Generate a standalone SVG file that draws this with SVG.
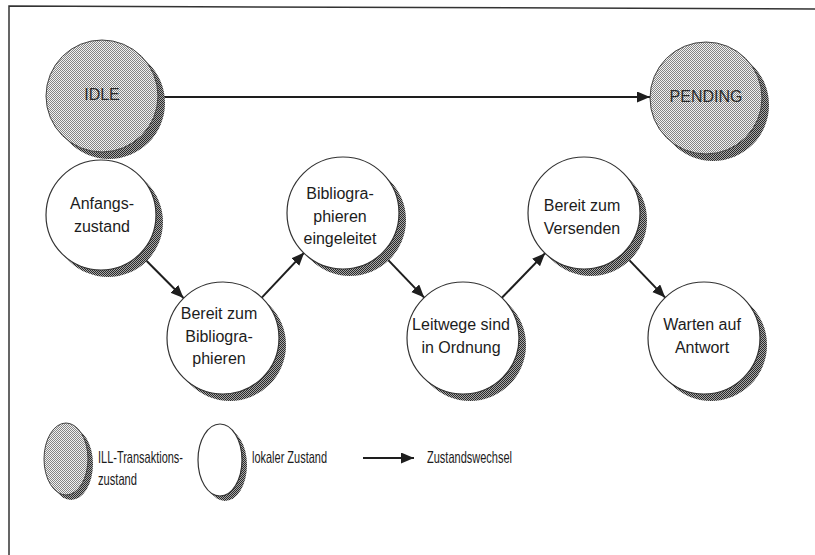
<svg xmlns="http://www.w3.org/2000/svg" width="815" height="555" viewBox="0 0 815 555">
<defs>
<pattern id="ditherLight" width="2" height="2" patternUnits="userSpaceOnUse">
<rect width="2" height="2" fill="#f2f2f2"/>
<rect width="1" height="1" fill="#858585"/>
<rect x="1" y="1" width="1" height="1" fill="#858585"/>
</pattern>
<pattern id="ditherDark" width="2" height="2" patternUnits="userSpaceOnUse">
<rect width="2" height="2" fill="#a8a8a8"/>
<rect width="1" height="1" fill="#2a2a2a"/>
<rect x="1" y="1" width="1" height="1" fill="#2a2a2a"/>
</pattern>
<marker id="arrow" markerUnits="userSpaceOnUse" markerWidth="14" markerHeight="12" refX="13" refY="5.5" orient="auto">
<path d="M0,0 L13,5.5 L0,11 z" fill="#1e1e1e"/>
</marker>
<style>
.shadow{fill:url(#ditherDark);stroke:none}
.gray{fill:url(#ditherLight);stroke:#444;stroke-width:1}
.white{fill:#fff;stroke:#333;stroke-width:1.2}
.lbl{font-family:"Liberation Sans",Arial,sans-serif;font-size:16px;fill:#1c1c1c;text-anchor:middle}
.glbl{font-family:"Liberation Sans",Arial,sans-serif;font-size:16px;fill:#2a2a2a;text-anchor:middle}
.leg{font-family:"Liberation Sans",Arial,sans-serif;font-size:16.5px;fill:#1c1c1c}
.conn{stroke:#1e1e1e;stroke-width:2;fill:none;marker-end:url(#arrow)}
</style>
</defs>
<rect width="815" height="555" fill="#fff"/>
<path d="M9,555 L9,6 L815,9" fill="none" stroke="#333" stroke-width="1.5"/>

<g id="connectors">
<line class="conn" x1="159" y1="97" x2="650" y2="97"/>
<line class="conn" x1="140.5" y1="254.8" x2="183.5" y2="298"/>
<line class="conn" x1="261.8" y1="297.6" x2="304.2" y2="252.6"/>
<line class="conn" x1="381.8" y1="253.4" x2="424.2" y2="297.6"/>
<line class="conn" x1="501.9" y1="297.8" x2="545.1" y2="253.2"/>
<line class="conn" x1="622.8" y1="253.4" x2="665.2" y2="297.6"/>
</g>

<g id="idle">
<circle class="shadow" cx="109" cy="103" r="56"/>
<circle class="gray" cx="102" cy="96" r="56"/>
<text class="glbl" x="102" y="100">IDLE</text>
</g>
<g id="pending">
<circle class="shadow" cx="713" cy="105" r="56"/>
<circle class="gray" cx="706" cy="98" r="56"/>
<text class="glbl" x="706" y="102">PENDING</text>
</g>

<g id="anfangszustand">
<circle class="shadow" cx="108" cy="222" r="55"/>
<circle class="white" cx="101" cy="215" r="55"/>
<text class="lbl" x="102" y="209">Anfangs-</text>
<text class="lbl" x="102" y="232">zustand</text>
</g>
<g id="bereit-bibliographieren">
<circle class="shadow" cx="230" cy="345" r="56"/>
<circle class="white" cx="223" cy="338" r="56"/>
<text class="lbl" x="219" y="319">Bereit zum</text>
<text class="lbl" x="219" y="342">Bibliogra-</text>
<text class="lbl" x="219" y="364">phieren</text>
</g>
<g id="bibliographieren-eingeleitet">
<circle class="shadow" cx="350" cy="220" r="56"/>
<circle class="white" cx="343" cy="213" r="56"/>
<text class="lbl" x="340" y="199">Bibliogra-</text>
<text class="lbl" x="340" y="222">phieren</text>
<text class="lbl" x="340" y="244">eingeleitet</text>
</g>
<g id="leitwege">
<circle class="shadow" cx="470" cy="345" r="56"/>
<circle class="white" cx="463" cy="338" r="56"/>
<text class="lbl" x="461" y="330">Leitwege sind</text>
<text class="lbl" x="461" y="353">in Ordnung</text>
</g>
<g id="bereit-versenden">
<circle class="shadow" cx="591" cy="220" r="56"/>
<circle class="white" cx="584" cy="213" r="56"/>
<text class="lbl" x="582" y="211">Bereit zum</text>
<text class="lbl" x="582" y="234">Versenden</text>
</g>
<g id="warten">
<circle class="shadow" cx="711" cy="345" r="56"/>
<circle class="white" cx="704" cy="338" r="56"/>
<text class="lbl" x="702" y="330">Warten auf</text>
<text class="lbl" x="702" y="353">Antwort</text>
</g>

<g id="legend-ill">
<ellipse class="shadow" cx="71" cy="464" rx="22" ry="36"/>
<ellipse class="gray" cx="66" cy="459" rx="22" ry="36"/>
<text class="leg" x="98" y="463" textLength="85" lengthAdjust="spacingAndGlyphs">ILL-Transaktions-</text>
<text class="leg" x="98" y="485" textLength="39" lengthAdjust="spacingAndGlyphs">zustand</text>
</g>
<g id="legend-lokal">
<ellipse class="shadow" cx="225" cy="465" rx="22" ry="36"/>
<ellipse class="white" cx="220" cy="460" rx="22" ry="36"/>
<text class="leg" x="252" y="463" textLength="75" lengthAdjust="spacingAndGlyphs">lokaler Zustand</text>
</g>
<g id="legend-wechsel">
<line class="conn" x1="363" y1="458" x2="414" y2="458"/>
<text class="leg" x="427" y="463" textLength="85" lengthAdjust="spacingAndGlyphs">Zustandswechsel</text>
</g>
</svg>
